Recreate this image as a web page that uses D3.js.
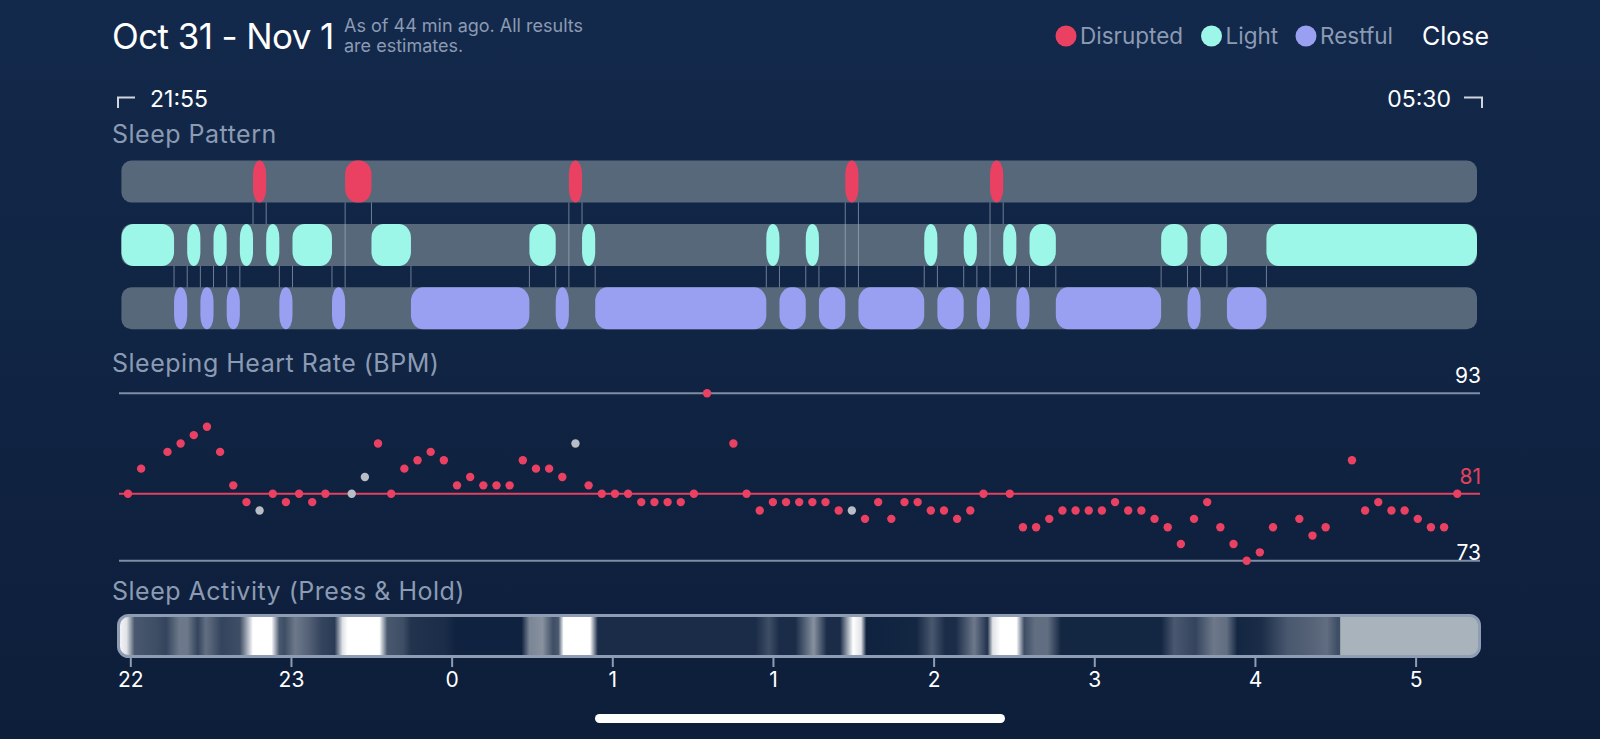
<!DOCTYPE html>
<html>
<head>
<meta charset="utf-8">
<script src="https://cdn.jsdelivr.net/npm/d3@7/dist/d3.min.js"></script>
<style>
  html, body { margin: 0; padding: 0; background: #10233f; }
  svg { display: block; }
  text { font-family: Inter, "Noto Sans", sans-serif; }
</style>
</head>
<body>
<svg id="chart" width="1600" height="739"></svg>
<script>
// ---- data (times are minutes since 21:55) ----
const stages = ['Disrupted', 'Light', 'Restful'];
const stageColors = ['#ea4163', '#9cf7e9', '#99a0f1'];

// [stage index, start, end]
const stageSegments = [
  [1, 0, 20], [2, 20, 25], [1, 25, 30], [2, 30, 35], [1, 35, 40], [2, 40, 45],
  [1, 45, 50], [0, 50, 55], [1, 55, 60], [2, 60, 65], [1, 65, 80], [2, 80, 85],
  [0, 85, 95], [1, 95, 110], [2, 110, 155], [1, 155, 165], [2, 165, 170],
  [0, 170, 175], [1, 175, 180], [2, 180, 245], [1, 245, 250], [2, 250, 260],
  [1, 260, 265], [2, 265, 275], [0, 275, 280], [2, 280, 305], [1, 305, 310],
  [2, 310, 320], [1, 320, 325], [2, 325, 330], [0, 330, 335], [1, 335, 340],
  [2, 340, 345], [1, 345, 355], [2, 355, 395], [1, 395, 405], [2, 405, 410],
  [1, 410, 420], [2, 420, 435], [1, 435, 515]
];

// heart rate every 5 minutes (first sample centred at 2.5 min), null = no reading
const heartRate = [
  81, 84, null, 86, 87, 88, 89, 86, 82, 80, 79, 81, 80, 81, 80, 81, null, 81, 83, 87,
  81, 84, 85, 86, 85, 82, 83, 82, 82, 82, 85, 84, 84, 83, 87, 82, 81, 81, 81, 80,
  80, 80, 80, 81, 93, null, 87, 81, 79, 80, 80, 80, 80, 80, 79, 79, 78, 80, 78, 80,
  80, 79, 79, 78, 79, 81, null, 81, 77, 77, 78, 79, 79, 79, 79, 80, 79, 79, 78, 77,
  75, 78, 80, 77, 75, 73, 74, 77, null, 78, 76, 77, null, 85, 79, 80, 79, 79, 78, 77,
  77, 81
];
// readings drawn grey
const heartRateGrey = [10, 17, 18, 34, 55];
const heartRateRefs = [93, 81, 73];
const heartRateAvg = 81;

// movement level 0..1 at minute marks
const activity = [
  [0, 0.95], [2, 0.9], [5, 0.35], [13, 0.3], [17, 0.25], [22, 0.5], [25, 0.5],
  [29, 0.25], [32, 0.45], [34, 0.4], [38, 0.25], [45, 0.3], [47, 0.6], [50, 1],
  [57, 1], [60, 0.35], [62, 0.3], [66, 0.5], [71, 0.4], [76, 0.25], [81, 0.2],
  [84, 0.9], [86, 1], [98, 1], [101, 0.35], [107, 0.3], [110, 0.15], [123, 0.1],
  [127, 0], [152, 0], [155, 0.55], [160, 0.6], [164, 0.3], [166, 0.35], [168, 1],
  [178, 1], [181, 0.1], [241, 0.1], [246, 0.3], [250, 0.1], [256, 0.1], [263, 0.6],
  [268, 0.1], [273, 0.1], [278, 1], [281, 0.9], [283, 0], [302, 0.05], [308, 0.35],
  [313, 0.1], [317, 0.1], [324, 0.5], [329, 0.15], [331, 0.9], [334, 1], [340, 1],
  [343, 0.3], [347, 0.45], [352, 0.45], [357, 0.05], [395, 0.05], [400, 0.35],
  [408, 0.25], [415, 0.5], [420, 0.45], [424, 0.05], [433, 0.1], [443, 0.35],
  [452, 0.4], [458, 0.45], [462, 0.3]
];
const wakeMinute = 463;
const totalMinutes = 515;

const hourLabels = ['22', '23', '0', '1', '1', '2', '3', '4', '5'];

// ---- layout ----
const svg = d3.select('#chart');
const W = 1600, H = 739;
const textGrey = '#8b9bb3';

const defs = svg.append('defs');
const bg = defs.append('linearGradient').attr('id', 'bg')
  .attr('x1', 0).attr('y1', 0).attr('x2', 0).attr('y2', 1);
bg.append('stop').attr('offset', 0).attr('stop-color', '#13294b');
bg.append('stop').attr('offset', 1).attr('stop-color', '#0d1e3a');
svg.append('rect').attr('width', W).attr('height', H).attr('fill', 'url(#bg)');

const x = d3.scaleLinear().domain([0, totalMinutes]).range([121.4, 1477]);

// ---- header ----
svg.append('text').attr('x', 112).attr('y', 49)
  .style('font-size', '35px').style('letter-spacing', '-0.6px')
  .attr('fill', '#ffffff').text('Oct 31 - Nov 1');

svg.append('text').attr('x', 344).attr('y', 32)
  .style('font-size', '18px').attr('fill', textGrey)
  .text('As of 44 min ago. All results');
svg.append('text').attr('x', 344).attr('y', 52)
  .style('font-size', '18px').attr('fill', textGrey)
  .text('are estimates.');

// legend
const legendX = [1066, 1211.5, 1306];
const legend = svg.append('g');
stages.forEach((s, i) => {
  legend.append('circle').attr('cx', legendX[i]).attr('cy', 36).attr('r', 10.5)
    .attr('fill', stageColors[i]);
  legend.append('text').attr('x', legendX[i] + 14).attr('y', 44)
    .style('font-size', '22.5px').attr('fill', textGrey).text(s);
});

svg.append('text').attr('x', 1489).attr('y', 45).attr('text-anchor', 'end')
  .style('font-size', '25px').attr('fill', '#ffffff').text('Close');

// start / end brackets
svg.append('path').attr('d', 'M118,108V97.5H135').attr('fill', 'none')
  .attr('stroke', '#cfd5de').attr('stroke-width', 2);
svg.append('text').attr('x', 150).attr('y', 107)
  .style('font-size', '23px').attr('fill', '#ffffff').text('21:55');
svg.append('path').attr('d', 'M1464,97.5H1482V108').attr('fill', 'none')
  .attr('stroke', '#cfd5de').attr('stroke-width', 2);
svg.append('text').attr('x', 1451).attr('y', 107).attr('text-anchor', 'end')
  .style('font-size', '23px').attr('fill', '#ffffff').text('05:30');

// section titles
const sectionStyle = sel => sel
  .style('font-size', '25px').style('letter-spacing', '0.5px').attr('fill', textGrey);

svg.append('text').attr('x', 112).attr('y', 143).call(sectionStyle).text('Sleep Pattern');

// ---- sleep pattern ----
const rowTop = [160.5, 224, 287.3];
const rowH = 42;

svg.append('g').selectAll('rect')
  .data(stages)
  .enter()
  .append('rect')
  .attr('x', x(0))
  .attr('y', (d, i) => rowTop[i])
  .attr('width', x(totalMinutes) - x(0))
  .attr('height', rowH)
  .attr('rx', 10)
  .attr('fill', '#57687b');

// connector lines at every change of stage
const changes = stageSegments.slice(1).map((d, i) => ({
  t: d[1],
  a: Math.min(d[0], stageSegments[i][0]),
  b: Math.max(d[0], stageSegments[i][0])
}));

svg.append('g').selectAll('line')
  .data(changes)
  .enter()
  .append('line')
  .attr('x1', d => x(d.t))
  .attr('x2', d => x(d.t))
  .attr('y1', d => rowTop[d.a] + rowH)
  .attr('y2', d => rowTop[d.b])
  .attr('stroke', '#aeb9cb')
  .attr('stroke-opacity', 0.6)
  .attr('stroke-width', 1);

svg.append('g').selectAll('rect')
  .data(stageSegments)
  .enter()
  .append('rect')
  .attr('x', d => x(d[1]))
  .attr('y', d => rowTop[d[0]])
  .attr('width', d => x(d[2]) - x(d[1]))
  .attr('height', rowH)
  .attr('rx', 12)
  .attr('ry', 14)
  .attr('fill', d => stageColors[d[0]]);

// ---- heart rate ----
svg.append('text').attr('x', 112).attr('y', 372).call(sectionStyle)
  .text('Sleeping Heart Rate (BPM)');

const y = d3.scaleLinear().domain([73, 93]).range([560.7, 393.3]);

const refs = svg.append('g');
refs.selectAll('line')
  .data(heartRateRefs)
  .enter()
  .append('line')
  .attr('x1', 119).attr('x2', 1480)
  .attr('y1', d => y(d)).attr('y2', d => y(d))
  .attr('stroke', d => d === heartRateAvg ? '#e0425f' : '#7f8da4')
  .attr('stroke-width', 2);

refs.selectAll('text')
  .data(heartRateRefs)
  .enter()
  .append('text')
  .attr('x', 1481)
  .attr('y', d => y(d) + (d === 73 ? -1 : -10))
  .attr('text-anchor', 'end')
  .style('font-size', '21px')
  .attr('fill', d => d === heartRateAvg ? '#e0425f' : '#ffffff')
  .text(d => d);

const hrPoints = heartRate
  .map((v, i) => ({ i, v, t: 2.5 + i * 5 }))
  .filter(d => d.v !== null);

svg.append('g').selectAll('circle')
  .data(hrPoints)
  .enter()
  .append('circle')
  .attr('cx', d => x(d.t))
  .attr('cy', d => y(d.v))
  .attr('r', 4.2)
  .attr('fill', d => heartRateGrey.includes(d.i) ? '#b8bdc6' : '#ea4163');

// ---- sleep activity ----
svg.append('text').attr('x', 112).attr('y', 600).call(sectionStyle)
  .text('Sleep Activity (Press & Hold)');

const barTop = 614, barH = 44;
const mix = d3.interpolateRgb('#0f223f', '#ffffff');
const level = v => mix(Math.pow(v, 1.35));

const grad = defs.append('linearGradient').attr('id', 'activity')
  .attr('gradientUnits', 'userSpaceOnUse')
  .attr('x1', x(0)).attr('x2', x(totalMinutes)).attr('y1', 0).attr('y2', 0);
grad.selectAll('stop')
  .data(activity)
  .enter()
  .append('stop')
  .attr('offset', d => d[0] / totalMinutes)
  .attr('stop-color', d => level(d[1]));

defs.append('clipPath').attr('id', 'barClip')
  .append('rect')
  .attr('x', 118).attr('y', barTop + 1)
  .attr('width', 1362).attr('height', barH - 2)
  .attr('rx', 10);

const bar = svg.append('g').attr('clip-path', 'url(#barClip)');
bar.append('rect')
  .attr('x', 118).attr('y', barTop)
  .attr('width', x(wakeMinute) - 118).attr('height', barH)
  .attr('fill', 'url(#activity)');
bar.append('rect')
  .attr('x', x(wakeMinute)).attr('y', barTop)
  .attr('width', 1482 - x(wakeMinute)).attr('height', barH)
  .attr('fill', '#a9b3bb');

svg.append('rect')
  .attr('x', 118.5).attr('y', barTop + 1.5)
  .attr('width', 1361).attr('height', barH - 3)
  .attr('rx', 10)
  .attr('fill', 'none')
  .attr('stroke', '#8e9db4')
  .attr('stroke-width', 3);

// hour axis
const hourScale = d3.scaleLinear().domain([0, hourLabels.length - 1]).range([130.3, 1415.6]);
const axis = svg.append('g')
  .attr('transform', `translate(0,${barTop + barH})`)
  .call(d3.axisBottom(hourScale)
    .tickValues(d3.range(hourLabels.length))
    .tickFormat(i => hourLabels[i])
    .tickSize(9)
    .tickPadding(5));
axis.select('.domain').remove();
axis.selectAll('line').attr('stroke', '#8e9db4').attr('stroke-width', 2);
axis.selectAll('text')
  .attr('fill', '#ffffff')
  .style('font-size', '21px')
  .style('font-family', 'Inter, "Noto Sans", sans-serif');

// home indicator
svg.append('rect').attr('x', 595).attr('y', 714).attr('width', 410).attr('height', 9)
  .attr('rx', 4.5).attr('fill', '#ffffff');
</script>
</body>
</html>
